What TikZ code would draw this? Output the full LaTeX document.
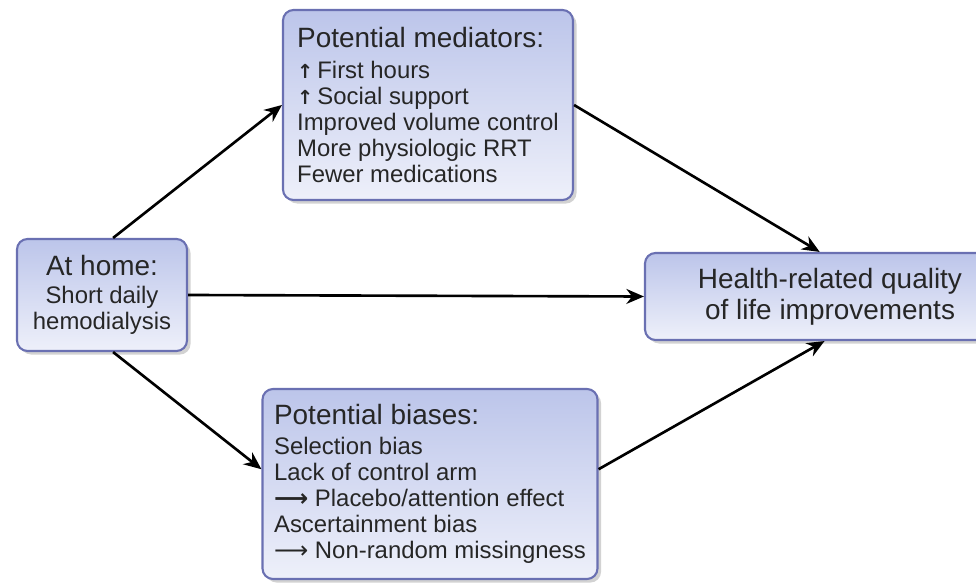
\documentclass[tikz,border=0pt]{standalone}
\usepackage{fontspec}
\setmainfont{Liberation Sans}
\newfontfamily\arrowfont{DejaVu Sans}
\usepackage{tikz}
\usetikzlibrary{arrows.meta, shadows}
\definecolor{boxedge}{HTML}{6A70B2}
\definecolor{boxtop}{HTML}{BCC5EA}
\definecolor{boxbot}{HTML}{EEF0FA}
\newcommand{\headfont}{\fontsize{15.9}{17.6}\selectfont}
\newcommand{\bodyfont}{\fontsize{13.6}{14.8}\selectfont}
\newcommand{\upmark}{{\arrowfont\bfseries\fontsize{11}{11}\selectfont ↑}}
\newcommand{\leadsmark}[1][\mdseries]{{\arrowfont#1⟶}}
\tikzset{%
	box/.style={draw=boxedge, line width=1.2pt, rectangle, rounded corners=6pt,%
		top color=boxtop, bottom color=boxbot, inner sep=0mm, text=black!85,%
		drop shadow={shadow xshift=2pt, shadow yshift=-2pt, fill=black!35},%
		font=\bodyfont},
	list/.style={box, align=left},
	mid/.style={box, align=center},
	link/.style={-{Stealth[length=10pt, width=8.5pt]}, line width=1.5pt}
}

\begin{document}
\begin{tikzpicture}
	\useasboundingbox (0,0) rectangle (19.52,11.66);
	\node[list, minimum width=5.8cm, minimum height=3.8cm] (med) at (8.56,9.56)
		{{\headfont Potential mediators:}\\[2.8pt]
		\upmark\,First hours\\ \upmark\,Social support\\ Improved volume control\\
		More physiologic RRT\\ Fewer medications};
	\node[mid, minimum width=3.4cm, minimum height=2.24cm] (home) at (2.04,5.76)
		{{\headfont At home:}\\[1.5pt] Short daily\\ hemodialysis};
	\node[list, minimum width=6.7cm, minimum height=3.8cm] (bias) at (8.6,1.98)
		{{\headfont Potential biases:}\\[2.5pt]
		Selection bias\\ Lack of control arm\\ \leadsmark[\bfseries] Placebo/attention effect\\
		Ascertainment bias\\ \leadsmark\ Non-random missingness};
	\node[mid, font=\headfont, minimum width=7.4cm, minimum height=1.74cm] (health) at (16.6,5.73)
		{Health-related quality\\ of life improvements};

	\draw[link] (home.79) to (med.west);
	\draw[link] (med.east) to (health.103);
	\draw[link] (home.east) to (health.west);
	\draw[link] (home.-79) to (bias.175);
	\draw[link] (bias.5) to (health.263);
\end{tikzpicture}
\end{document}
